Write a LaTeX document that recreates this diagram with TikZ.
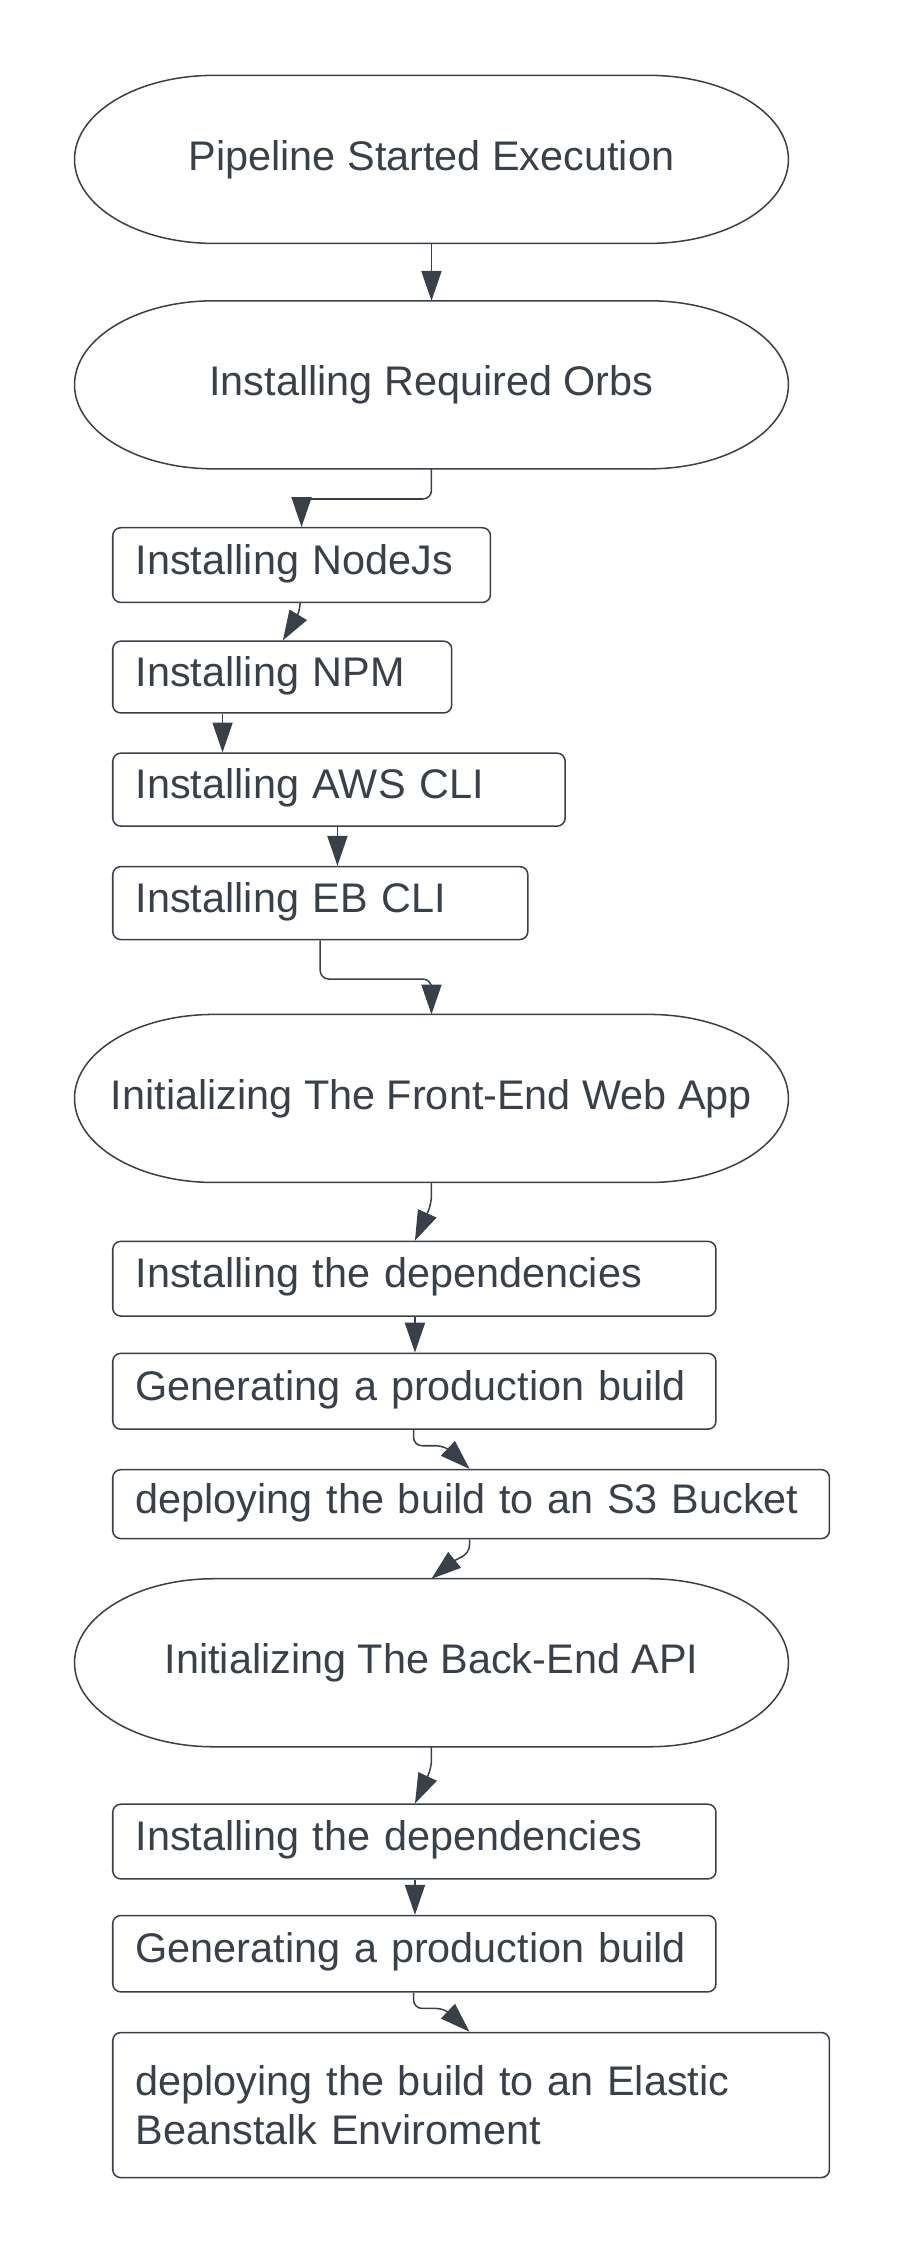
\documentclass[tikz,border=0pt]{standalone}
\usepackage{fontspec}
\setmainfont{Liberation Sans}
\usepackage{xcolor}
\usetikzlibrary{arrows.meta,calc,positioning}
\definecolor{ink}{HTML}{3A404A}
\newcommand\stadium[1]{
\draw[ink,line width=0.75pt] ($(#1.north west)+(97,0)$) -- ($(#1.north east)+(-97,0)$)
  arc[start angle=90,end angle=-90,x radius=2.425cm,y radius=1.4625cm]
  -- ($(#1.south west)+(97,0)$)
  arc[start angle=270,end angle=90,x radius=2.425cm,y radius=1.4625cm] -- cycle;}

\begin{document}
\begin{tikzpicture}[x=0.025cm,y=-0.025cm,
  font=\fontsize{20.5}{24.6}\selectfont,text=ink,
  phase/.style={minimum width=12.425cm,minimum height=2.925cm,inner sep=0pt,outer sep=0pt},
  stepbox/.style={draw=ink,line width=0.75pt,rounded corners=0.14cm,anchor=north west,
    minimum height=1.3cm,inner xsep=0.4cm,align=left,text width=#1,
    text height=0.92em,text depth=0pt},
  flow/.style={draw=ink,line width=0.75pt,rounded corners=0.15cm,
    -{Triangle[length=0.52cm,width=0.35cm]}}]
\useasboundingbox (0,0) rectangle (627,1567);
\node[phase] (start) at (300.5,111) {Pipeline Started Execution};
\node[phase] (orbs) at (300.5,268) {Installing Required Orbs};
\node[stepbox=5.775cm] (nodejs) at (78,367) {Installing NodeJs};
\node[stepbox=5.1cm,minimum height=1.25cm] (npm) at (78,446) {Installing NPM};
\node[stepbox=7.075cm,minimum height=1.27cm] (aws) at (78,524) {Installing AWS CLI};
\node[stepbox=6.425cm,minimum height=1.27cm] (eb) at (78,603) {Installing EB CLI};
\node[phase] (front) at (300.5,765) {Initializing The Front-End Web App};
\node[stepbox=9.7cm] (deps1) at (78,864) {Installing the dependencies};
\node[stepbox=9.7cm,minimum height=1.32cm] (gen1) at (78,942) {Generating a production build};
\node[stepbox=11.675cm,minimum height=1.2cm] (s3) at (78,1023) {deploying the build to an S3 Bucket};
\node[phase] (back) at (300.5,1158) {Initializing The Back-End API};
\node[stepbox=9.7cm] (deps2) at (78,1256) {Installing the dependencies};
\node[stepbox=9.7cm,minimum height=1.33cm] (gen2) at (78,1333.5) {Generating a production build};
\node[stepbox=11.675cm,minimum height=2.525cm,text height={},text depth={}] (ebenv) at (78,1415) {deploying the build to an Elastic\\Beanstalk Enviroment};
\foreach \n in {start,orbs,front,back} \stadium{\n};

\draw[flow] (start.south) -- (orbs.north);
\draw[flow] (orbs.south) -- ++(0,21) -| ($(nodejs.north west)+(132,0)$);
\draw[flow] ($(nodejs.south west)+(131,0)$) -- ++(0,6) -- ($(npm.north west)+(119,0)$);
\draw[flow] ($(npm.south west)+(77,0)$) -- ($(aws.north west)+(77,0)$);
\draw[flow] ($(aws.south west)+(157,0)$) -- ($(eb.north west)+(157,0)$);
\draw[flow] ($(eb.south west)+(145,0)$) -- ++(0,27) -| (front.north);
\draw[flow] (front.south) -- ++(0,15) -- ($(deps1.north west)+(211,0)$);
\draw[flow] ($(deps1.south west)+(211,0)$) -- ($(gen1.north west)+(211,0)$);
\draw[flow] ($(gen1.south west)+(210,0)$) -- ++(0,11) -- ++(22,0) -- ($(s3.north west)+(249,0)$);
\draw[flow] ($(s3.south west)+(249,0)$) -- ++(0,10) -- ++(-10,4) -- (back.north);
\draw[flow] (back.south) -- ++(0,15) -- ($(deps2.north west)+(211,0)$);
\draw[flow] ($(deps2.south west)+(211,0)$) -- ($(gen2.north west)+(211,0)$);
\draw[flow] ($(gen2.south west)+(210,0)$) -- ++(0,11) -- ++(22,0) -- ($(ebenv.north west)+(249,0)$);
\end{tikzpicture}
\end{document}
